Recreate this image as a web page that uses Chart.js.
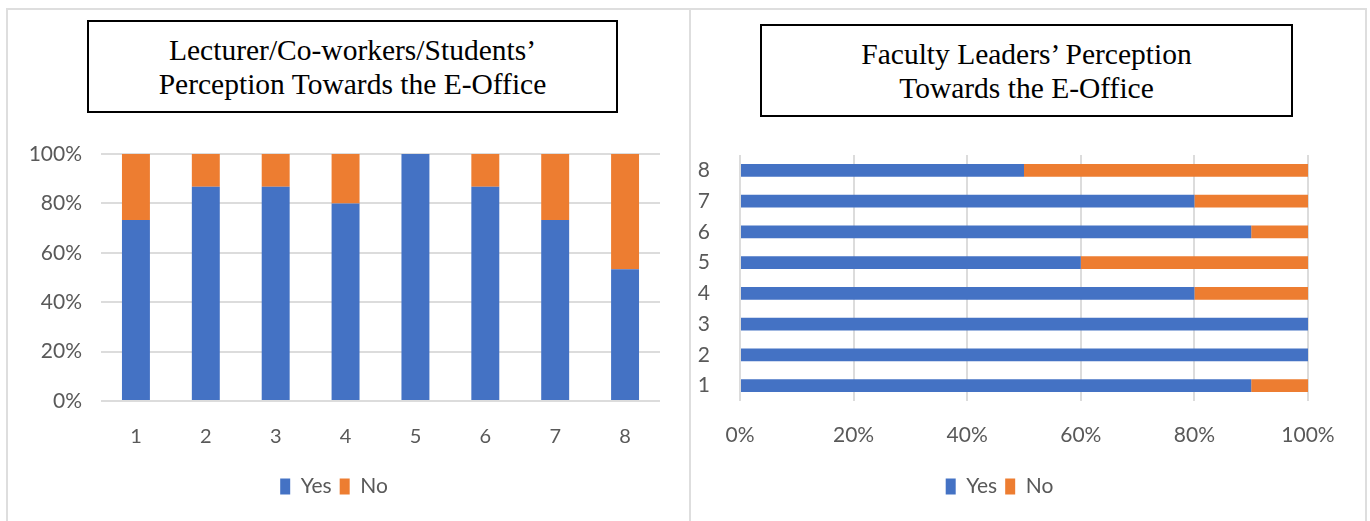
<!DOCTYPE html>
<html>
<head>
<meta charset="utf-8">
<script src="https://cdn.jsdelivr.net/npm/chart.js@4"></script>
<style>
  html, body { margin: 0; padding: 0; background: #fff; }
  body { width: 1370px; height: 521px; position: relative; overflow: hidden; }
  .frame { position: absolute; border: 2px solid #dedede; border-bottom: none; box-sizing: border-box; }
  .titlebox {
    position: absolute; border: 2px solid #000; background: #fff; box-sizing: border-box;
    font-family: "Liberation Serif", "Times New Roman", serif; font-size: 29.5px; line-height: 34px;
    text-align: center; color: #000; display: flex; align-items: center; justify-content: center;
  }
  canvas { position: absolute; }
</style>
</head>
<body>
<div class="frame" style="left:6px; top:8px; width:685px; height:513px;"></div>
<div class="frame" style="left:689px; top:8px; width:678px; height:513px;"></div>

<div style="position:absolute; left:8px; top:11px; width:680px; height:510px;"><canvas id="leftChart"></canvas></div>
<div style="position:absolute; left:691px; top:11px; width:673px; height:510px;"><canvas id="rightChart"></canvas></div>

<div class="titlebox" style="left:87px; top:20px; width:531px; height:93px;">Lecturer/Co-workers/Students’<br>Perception Towards the E-Office</div>
<div class="titlebox" style="left:760px; top:24px; width:533px; height:93px;">Faculty Leaders’ Perception<br>Towards the E-Office</div>

<script>
// values (percent)
const categories = ['1', '2', '3', '4', '5', '6', '7', '8'];
const staffYes = [73.3, 86.7, 86.7, 80, 100, 86.7, 73.3, 53.3];
const staffNo = [26.7, 13.3, 13.3, 20, 0, 13.3, 26.7, 46.7];
const leaderYes = [90, 100, 100, 80, 60, 90, 80, 50];
const leaderNo = [10, 0, 0, 20, 40, 10, 20, 50];
const percentTicks = [0, 20, 40, 60, 80, 100];

const BLUE = '#4472C4';
const ORANGE = '#ED7D31';
const GRID = '#dcdcdc';
const TEXT = '#595959';
const FONT = 'Lato, "Open Sans", sans-serif';

Chart.defaults.font.family = FONT;
Chart.defaults.color = TEXT;
Chart.defaults.animation = false;

function legendOpts() {
    return {
        position: 'bottom',
        labels: { boxWidth: 10, boxHeight: 16, padding: 8, font: { size: 21 }, color: TEXT }
    };
}

function pctTicks(axis) {
    axis.ticks = percentTicks.map(v => ({ value: v }));
}

// left: vertical stacked columns
new Chart(document.getElementById('leftChart'), {
    type: 'bar',
    data: {
        labels: categories,
        datasets: [
            { label: 'Yes', data: staffYes, backgroundColor: BLUE, barPercentage: 0.4, categoryPercentage: 1 },
            { label: 'No', data: staffNo, backgroundColor: ORANGE, barPercentage: 0.4, categoryPercentage: 1 }
        ]
    },
    options: {
        responsive: true,
        maintainAspectRatio: false,
        layout: { padding: { top: 143, left: 0, right: 28, bottom: 14 } },
        plugins: { legend: legendOpts(), tooltip: { enabled: false } },
        scales: {
            x: {
                stacked: true,
                grid: { display: false },
                border: { display: false },
                ticks: { font: { size: 20 }, padding: 16, color: TEXT },
                afterFit: s => { s.height = 67; }
            },
            y: {
                stacked: true,
                min: 0, max: 100,
                afterBuildTicks: pctTicks,
                grid: { color: GRID, lineWidth: 2, drawTicks: false },
                border: { display: false },
                ticks: { font: { size: 21 }, padding: 19, color: TEXT, callback: v => v + '%' },
                afterFit: s => { s.width = 93; }
            }
        }
    }
});

// right: horizontal stacked bars
new Chart(document.getElementById('rightChart'), {
    type: 'bar',
    data: {
        labels: categories,
        datasets: [
            { label: 'Yes', data: leaderYes, backgroundColor: BLUE, barPercentage: 0.42, categoryPercentage: 1 },
            { label: 'No', data: leaderNo, backgroundColor: ORANGE, barPercentage: 0.42, categoryPercentage: 1 }
        ]
    },
    options: {
        indexAxis: 'y',
        responsive: true,
        maintainAspectRatio: false,
        layout: { padding: { top: 144, left: 0, right: 56, bottom: 14 } },
        plugins: { legend: legendOpts(), tooltip: { enabled: false } },
        scales: {
            x: {
                stacked: true,
                min: 0, max: 100,
                afterBuildTicks: pctTicks,
                grid: { color: GRID, lineWidth: 2, drawTicks: false },
                border: { display: false },
                ticks: { font: { size: 21 }, padding: 22, color: TEXT, callback: v => v + '%' },
                afterFit: s => { s.height = 67; }
            },
            y: {
                stacked: true,
                reverse: true,
                grid: { display: false },
                border: { display: false },
                ticks: { font: { size: 21 }, padding: 22, color: TEXT },
                afterFit: s => { s.width = 49; }
            }
        }
    }
});
</script>
</body>
</html>
